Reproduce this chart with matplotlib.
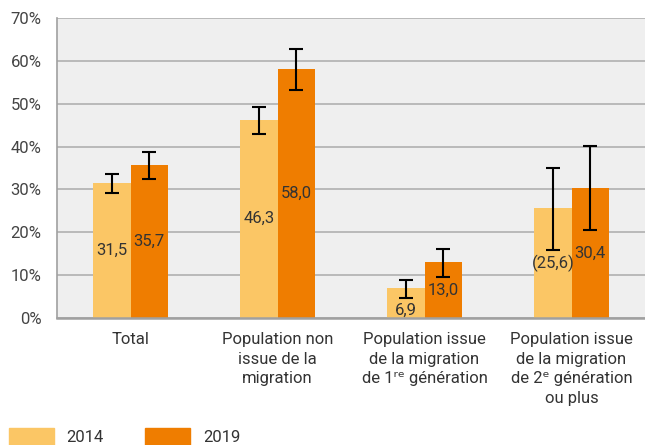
import numpy as np
import matplotlib.pyplot as plt
from matplotlib.patches import Patch

plt.rcParams['font.family'] = ['Roboto', 'DejaVu Sans']

# données
categories = ['Total', 'Population non\nissue de la\nmigration',
              'Population issue\nde la migration\nde 1\u02b3\u1d49 génération',
              'Population issue\nde la migration\nde 2\u1d49 génération\nou plus']
v2014 = [31.5, 46.3, 6.9, 25.6]
v2019 = [35.7, 58.0, 13.0, 30.4]
lab2014 = ['31,5', '46,3', '6,9', '(25,6)']
lab2019 = ['35,7', '58,0', '13,0', '30,4']
lo2014 = [29.1, 43.0, 4.7, 15.9]
hi2014 = [33.7, 49.3, 8.9, 35.1]
lo2019 = [32.4, 53.1, 9.6, 20.5]
hi2019 = [38.7, 62.7, 16.2, 40.1]

c14 = '#fbc665'
c19 = '#ef7d00'
txt = '#333333'

fig = plt.figure(figsize=(6.45, 4.45), dpi=100)
ax = fig.add_axes([57/645, 1-318/445, 588/645, 300/445])
ax.set_facecolor('#efefef')

x = np.arange(len(categories))
w = 0.255
b1 = ax.bar(x - w/2, v2014, w, color=c14, zorder=2)
b2 = ax.bar(x + w/2, v2019, w, color=c19, zorder=2)

err14 = [np.array(v2014) - np.array(lo2014), np.array(hi2014) - np.array(v2014)]
err19 = [np.array(v2019) - np.array(lo2019), np.array(hi2019) - np.array(v2019)]
ax.errorbar(x - w/2, v2014, yerr=err14, fmt='none', ecolor='black', elinewidth=1.5, capsize=5, capthick=1.5, zorder=3)
ax.errorbar(x + w/2, v2019, yerr=err19, fmt='none', ecolor='black', elinewidth=1.5, capsize=5, capthick=1.5, zorder=3)

t1 = ax.bar_label(b1, labels=lab2014, label_type='center', fontsize=12, color=txt, zorder=4)
t2 = ax.bar_label(b2, labels=lab2019, label_type='center', fontsize=12, color=txt, zorder=4)
# petite barre: étiquette un peu plus bas, sous la barre d'erreur
t1[2].xyann = (0, -5)

ax.set_ylim(0, 70)
ax.set_xlim(-0.5, 3.5)
ax.set_yticks(range(0, 71, 10))
ax.set_yticklabels([f'{v}%' for v in range(0, 71, 10)], fontsize=12, color='#444444')
ax.set_xticks(x)
ax.set_xticklabels(categories, fontsize=12, color=txt, linespacing=1.4)
ax.tick_params(axis='both', length=0)
ax.tick_params(axis='y', pad=11)
ax.tick_params(axis='x', pad=10)
ax.grid(axis='y', color='#b0b0b0', linewidth=1.2, zorder=1)
for s in ['top', 'right']:
    ax.spines[s].set_visible(False)
ax.spines['left'].set_color('#a0a0a0')
ax.spines['left'].set_linewidth(1.2)
ax.spines['bottom'].set_color('#a0a0a0')
ax.spines['bottom'].set_linewidth(1.8)

handles = [Patch(color=c14, label='2014'), Patch(color=c19, label='2019')]
fig.legend(handles=handles, loc='lower left', bbox_to_anchor=(9/645, 0.0), ncol=2, frameon=False,
           fontsize=12, handlelength=2.7, handleheight=1.2, columnspacing=2.5, handletextpad=0.75,
           borderpad=0, borderaxespad=0, labelcolor=txt)

fig.savefig('out.png', dpi=100)
